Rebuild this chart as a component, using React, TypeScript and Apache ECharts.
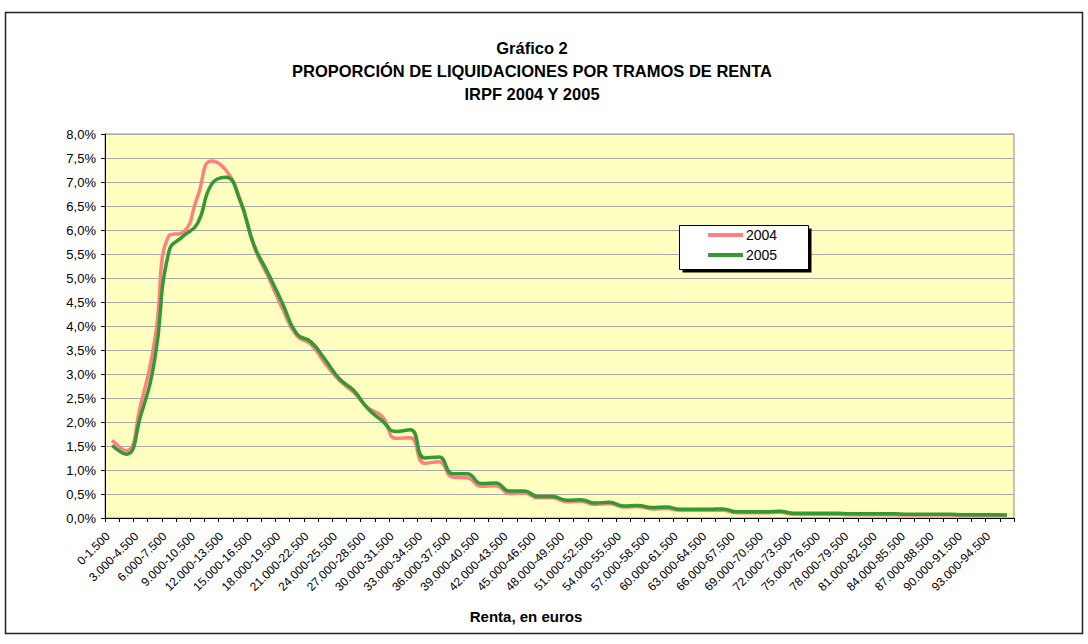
import React, { useEffect, useRef } from "react";
import * as echarts from "echarts";

const categories: string[] = [];
for (let i = 0; i < 64; i++) {
  const a = i * 1500;
  const b = a + 1500;
  const fmt = (n: number) => (n === 0 ? "0" : (n / 1000).toFixed(3));
  categories.push(`${fmt(a)}-${fmt(b)}`);
}

const yTickValues = [0, 0.5, 1, 1.5, 2, 2.5, 3, 3.5, 4, 4.5, 5, 5.5, 6, 6.5, 7, 7.5, 8];

const series2004 = [
  1.62, 1.40, 2.35, 3.70, 5.88, 5.95, 6.68, 7.44, 7.25, 6.65,
  5.65, 5.02, 4.36, 3.80, 3.62, 3.22, 2.87, 2.62, 2.30, 2.12,
  1.66, 1.67, 1.14, 1.17, 0.85, 0.84, 0.66, 0.67, 0.51, 0.52,
  0.42, 0.42, 0.34, 0.35, 0.28, 0.30, 0.23, 0.24, 0.19, 0.20,
  0.16, 0.16, 0.16, 0.16, 0.11, 0.11, 0.11, 0.12, 0.08, 0.08,
  0.08, 0.08, 0.07, 0.07, 0.07, 0.07, 0.06, 0.06, 0.06, 0.06,
  0.05, 0.05, 0.05, 0.05,
];

const series2005 = [
  1.51, 1.33, 2.12, 3.30, 5.55, 5.87, 6.13, 6.95, 7.10, 6.62,
  5.68, 5.09, 4.47, 3.84, 3.67, 3.30, 2.90, 2.66, 2.28, 2.03,
  1.80, 1.84, 1.25, 1.27, 0.92, 0.92, 0.72, 0.73, 0.56, 0.56,
  0.45, 0.45, 0.37, 0.38, 0.31, 0.33, 0.25, 0.26, 0.22, 0.23,
  0.18, 0.18, 0.18, 0.19, 0.13, 0.13, 0.13, 0.14, 0.10, 0.10,
  0.10, 0.10, 0.09, 0.09, 0.09, 0.09, 0.08, 0.08, 0.08, 0.08,
  0.07, 0.07, 0.07, 0.06,
];

const titleLines = [
  "Gráfico 2",
  "PROPORCIÓN DE LIQUIDACIONES POR TRAMOS DE RENTA",
  "IRPF 2004 Y 2005",
];

const FONT = "'Liberation Sans', Arial, sans-serif";

export default function App() {
  const ref = useRef<HTMLDivElement>(null);
  useEffect(() => {
    if (!ref.current) return;
    const chart = echarts.init(ref.current, null, { renderer: "svg" });
    chart.setOption({
      animation: false,
      backgroundColor: "#ffffff",
      textStyle: { fontFamily: FONT },
      graphic: [
        {
          type: "rect",
          z: 0,
          silent: true,
          shape: { x: 5.5, y: 12.5, width: 1077, height: 621 },
          style: { fill: "none", stroke: "#222222", lineWidth: 1.5 },
        },
        {
          type: "text",
          x: 532,
          y: 36,
          style: {
            text: titleLines.join("\n"),
            font: `bold 16.5px ${FONT}`,
            fill: "#000000",
            textAlign: "center",
            textVerticalAlign: "top",
            lineHeight: 23,
          },
        },
        {
          type: "text",
          x: 526,
          y: 609,
          style: {
            text: "Renta, en euros",
            font: `bold 15px ${FONT}`,
            fill: "#000000",
            textAlign: "center",
            textVerticalAlign: "top",
          },
        },
        {
          type: "rect",
          z: 3,
          silent: true,
          shape: { x: 682.5, y: 228.5, width: 129, height: 44 },
          style: { fill: "#000000" },
        },
        {
          type: "rect",
          z: 3,
          silent: true,
          shape: { x: 679.5, y: 225.5, width: 129, height: 44 },
          style: { fill: "#ffffff", stroke: "#000000", lineWidth: 1 },
        },
      ],
      legend: {
        orient: "vertical",
        left: 708,
        top: 228,
        padding: 0,
        itemWidth: 35,
        itemHeight: 4,
        itemGap: 6,
        icon: "rect",
        textStyle: { fontSize: 14, color: "#000000", fontFamily: FONT, padding: [0, 0, 0, -2] },
        data: ["2004", "2005"],
      },
      grid: {
        left: 105,
        right: 74,
        top: 134,
        bottom: 126,
        show: true,
        backgroundColor: "#FFFFC0",
        borderColor: "#8c8c8c",
        borderWidth: 1,
      },
      xAxis: {
        type: "category",
        data: categories,
        boundaryGap: true,
        axisLine: { lineStyle: { color: "#000000", width: 1 } },
        axisTick: { show: true, interval: 0, length: 4, lineStyle: { color: "#000000" } },
        axisLabel: {
          interval: 1,
          rotate: 45,
          fontSize: 12,
          color: "#000000",
          fontFamily: FONT,
          margin: 12,
          padding: [0, 6, 0, 0],
          hideOverlap: false,
        },
        splitLine: { show: false },
      },
      yAxis: {
        type: "value",
        min: yTickValues[0],
        max: yTickValues[yTickValues.length - 1],
        interval: 0.5,
        axisLine: { show: true, lineStyle: { color: "#000000", width: 1 } },
        axisTick: { show: true, length: 4, lineStyle: { color: "#000000" } },
        axisLabel: {
          fontSize: 13,
          color: "#000000",
          fontFamily: FONT,
          margin: 9,
          formatter: (v: number) => v.toFixed(1).replace(".", ",") + "%",
        },
        splitLine: { show: true, lineStyle: { color: "#a8a8a8", width: 1 } },
      },
      series: [
        {
          name: "2004",
          type: "line",
          data: series2004,
          smooth: 0.5,
          showSymbol: false,
          symbol: "none",
          lineStyle: { color: "#FF8080", width: 3.5 },
          itemStyle: { color: "#FF8080" },
          z: 2,
        },
        {
          name: "2005",
          type: "line",
          data: series2005,
          smooth: 0.5,
          showSymbol: false,
          symbol: "none",
          lineStyle: { color: "#339933", width: 3.5 },
          itemStyle: { color: "#339933" },
          z: 2,
        },
      ],
    });
    return () => chart.dispose();
  }, []);
  return (
    <div
      ref={ref}
      style={{ position: "absolute", left: 0, top: 0, width: 1088, height: 644 }}
    />
  );
}
